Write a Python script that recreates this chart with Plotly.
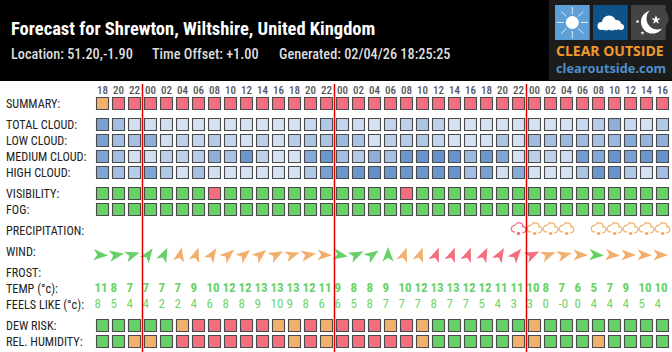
import numpy as np
import plotly.graph_objects as go

TITLE = "Forecast for Shrewton, Wiltshire, United Kingdom"
SUB1 = "Location: 51.20,-1.90"
SUB2 = "Time Offset: +1.00"
SUB3 = "Generated: 02/04/26 18:25:25"

hours = ["18","20","22"] + ["00","02","04","06","08","10","12","14","16","18","20","22"]*2 + ["00","02","04","06","08","10","12","14","16"]

total_cloud = [75,45,12,12,12,10,10,10,10,10,10,10,10,20,35,22,15,10,22,25,38,25,10,10,10,10,10,10,10,10,20,30,60,20,10,35]
low_cloud = [75,45,42,60,12,25,22,33,22,10,28,12,30,38,38,50,40,10,28,32,35,22,10,10,10,38,10,48,42,50,48,42,52,65,55,60]
medium_cloud = [72,45,12,12,28,25,30,60,40,85,25,10,10,65,85,45,33,60,42,85,88,90,88,50,85,70,10,28,25,15,80,68,88,75,85,90]
high_cloud = [70,45,30,70,35,10,42,12,10,10,10,10,10,35,75,85,85,92,85,85,85,85,88,45,75,12,65,10,10,10,38,85,88,35,10,45]

# 0 good, 1 marginal, 2 poor
summary = [1]+[2]*35
visibility = [0]*7+[2]+[0]*11+[2]+[0]*16
fog = [0]*36
dew_risk = [0,0,0,0,0,1,2,2,2,2,2,1,1,2,1,2,2,2,1,2,1,0,0,0,0,0,0,1,0,0,0,0,0,0,0,0]
rel_humidity = [0,0,1,1,0,2,2,2,2,2,2,2,1,2,1,2,2,2,2,2,1,0,0,0,0,0,1,1,0,0,0,1,0,0,0,0]
precipitation = [0]*26+[2,1,1,1,0,1,1,1,1,1]

wind_bearing = [93,80,72,35,25,12,18,32,50,52,52,62,72,80,92,100,65,55,0,20,20,20,20,20,25,30,40,65,70,75,90,93,95,90,92,90]
wind_level = [0,0,0,0,0]+[1]*10+[0,0,0,0]+[1,1]+[2]*7+[1,1,1]+[0]+[1]*4

temp = [11,8,7,7,7,7,9,10,12,12,13,13,13,12,11,9,8,8,9,10,12,13,13,12,12,11,11,10,8,7,6,5,7,9,10,10]
feels = ["8","5","4","4","2","2","4","6","8","8","9","10","9","8","6","6","5","8","7","7","7","8","7","7","5","4","3","3","0","-0","0","4","4","4","5","4"]

row_labels = ["SUMMARY:","TOTAL CLOUD:","LOW CLOUD:","MEDIUM CLOUD:","HIGH CLOUD:","VISIBILITY:","FOG:",
              "PRECIPITATION:","WIND:","FROST:","TEMP (°c):","FEELS LIKE (°c):","DEW RISK:","REL. HUMIDITY:"]
row_label_y = [103.5,125,141,157,173,193.5,209.5,230.5,252,273,289,305,325.5,341.5]

LEVEL = ["#66d166","#f2b06e","#f36f80"]
NARROW = "Roboto Condensed, Liberation Sans Narrow, Arial Narrow, Roboto"
GRID = "#4a4a4a"
COL_W = 16.0
X0 = 102.5
cols = np.arange(len(hours))

fig = go.Figure()

def cell_row(values, y, cloud=False):
    m = dict(symbol="square", size=12, line=dict(color=GRID, width=1.1))
    if cloud:
        m.update(color=values, cmin=0, cmax=100, colorscale=[[0,"#e2ebf7"],[1,"#5688c8"]])
    else:
        m.update(color=[LEVEL[v] for v in values])
    fig.add_trace(go.Scatter(x=cols, y=[y]*len(cols), mode="markers", marker=m, hoverinfo="skip"))

cell_row(summary, 103.5)
cell_row(total_cloud, 124.5, True)
cell_row(low_cloud, 140.5, True)
cell_row(medium_cloud, 156.5, True)
cell_row(high_cloud, 172.5, True)
cell_row(visibility, 193.5)
cell_row(fog, 209.5)
cell_row(dew_risk, 325.5)
cell_row(rel_humidity, 341.5)

# hour labels
fig.add_trace(go.Scatter(x=cols, y=[91]*len(cols), mode="text", text=hours, textposition="middle center",
                         textfont=dict(family=NARROW, size=11, color="#555555", weight=500), hoverinfo="skip"))
# temperature rows
fig.add_trace(go.Scatter(x=cols-8/COL_W, y=[289]*len(cols), mode="text", text=[str(t) for t in temp],
                         textposition="middle right",
                         textfont=dict(family=NARROW, size=13, color=LEVEL[0], weight=700), hoverinfo="skip"))
fig.add_trace(go.Scatter(x=cols-8/COL_W, y=[305]*len(cols), mode="text", text=feels,
                         textposition="middle right",
                         textfont=dict(family=NARROW, size=13, color="#70d470"), hoverinfo="skip"))

# wind arrowheads, one filled trace per level
ARROW = np.array([[0,-8.0],[5.6,6.5],[0,2.8],[-5.6,6.5]])
for lvl in range(3):
    xs, ys = [], []
    for c, b, l in zip(cols, wind_bearing, wind_level):
        if l != lvl:
            continue
        a = np.radians(b)
        rx = ARROW[:,0]*np.cos(a) - ARROW[:,1]*np.sin(a)
        ry = ARROW[:,0]*np.sin(a) + ARROW[:,1]*np.cos(a)
        xs += list(c - 2.5/COL_W + rx/COL_W) + [c - 2.5/COL_W + rx[0]/COL_W, None]
        ys += list(255 + ry) + [255 + ry[0], None]
    fig.add_trace(go.Scatter(x=xs, y=ys, mode="lines", fill="toself", fillcolor=LEVEL[lvl],
                             line=dict(width=0, color=LEVEL[lvl]), hoverinfo="skip"))

# precipitation icons: open cloud outline with a drop
def arc(cx, cy, r, a0, a1, n=10):
    t = np.radians(np.linspace(a0, a1, n))
    return cx + r*np.sin(t), cy - r*np.cos(t)
parts = [arc(-3.9,228.8,3.4,170,360), arc(0.6,226.8,4.2,-50,75), arc(4.4,229.6,3.1,-10,190)]
ox = np.concatenate([p[0] for p in parts]); oy = np.concatenate([p[1] for p in parts])
for lvl in (1,2):
    xs, ys, dx = [], [], []
    for c, p in zip(cols, precipitation):
        if p == lvl:
            xs += list(c + ox/COL_W) + [None]
            ys += list(oy) + [None]
            dx.append(c)
    fig.add_trace(go.Scatter(x=xs, y=ys, mode="lines", line=dict(color=LEVEL[lvl], width=1.2), hoverinfo="skip"))
    fig.add_trace(go.Scatter(x=dx, y=[233.4]*len(dx), mode="markers",
                             marker=dict(color=LEVEL[lvl], size=3.5), hoverinfo="skip"))

# logo glyphs on the pixel overlay
def logo(x, y, size, color, symbol="circle", line=None):
    m = dict(size=size, color=color, symbol=symbol)
    if line:
        m["line"] = line
    fig.add_trace(go.Scatter(x=[x], y=[y], xaxis="x2", yaxis="y", mode="markers", marker=m, hoverinfo="skip"))

logo(572.3,22.5,26,"#ffffff","asterisk-open",dict(color="#e8f1fa",width=0.8))
logo(572.3,22.5,17,"#5e9fd8")
logo(572.3,22.5,13,"#ffffff")
for cx,cy,s in [(601.5,26,8),(609,22.5,14),(616.5,25,10),(621,27,6),(606,27,7),(612,27,7)]:
    logo(cx,cy,s,"#ffffff")
logo(652.5,22,23,"#ffffff")
logo(657.5,18.5,22,"#444444")
logo(656,20,7,"#ffffff","star")
logo(637.5,21.5,2.5,"#ffffff")
logo(642.5,33,3,"#ffffff","star")

ann = []
def text(x, y, s, size, color, weight=400, family=NARROW):
    ann.append(dict(x=x, y=y, xref="x2", yref="y", text=s, showarrow=False, xanchor="left", yanchor="middle",
                    borderpad=0, font=dict(family=family, size=size, color=color, weight=weight)))

text(9.5, 28.5, TITLE, 18.5, "#ffffff", 700)
text(9.5, 54, SUB1, 14.3, "#dddddd", 500)
text(150.5, 54, SUB2, 14.3, "#dddddd", 500)
text(277.5, 54, SUB3, 14.3, "#dddddd", 500)
text(555, 50.4, "CLEAR OUTSIDE", 14, "#f2992e", 700, "Open Sans")
text(555, 68.4, "clearoutside.com", 12.8, "#4f8fc9", 700, "Open Sans")
for s, y in zip(row_labels, row_label_y):
    text(5, y, s, 12.2, "#222222")

shapes = [
    dict(type="rect", xref="x2", yref="y", x0=0, x1=672, y0=0, y1=81, fillcolor="#000000", line_width=0, layer="below"),
    dict(type="rect", xref="x2", yref="y", x0=549, x1=672, y0=0, y1=80, fillcolor="#1c1c1c", line_width=0, layer="below"),
    dict(type="rect", xref="x2", yref="y", x0=555, x1=589.7, y0=5, y1=40, fillcolor="#5e9fd8", line_width=0, layer="below"),
    dict(type="rect", xref="x2", yref="y", x0=593, x1=627.7, y0=5, y1=40, fillcolor="#0e5288", line_width=0, layer="below"),
    dict(type="rect", xref="x2", yref="y", x0=631, x1=665.7, y0=5, y1=40, fillcolor="#444444", line_width=0, layer="below"),
]
for i in range(1, len(hours)):
    if hours[i] == "00":
        shapes.append(dict(type="line", xref="x", yref="y", x0=i-0.5, x1=i-0.5, y0=84, y1=352,
                           line=dict(color="#e00000", width=1.5), layer="above"))

fig.update_layout(
    width=672, height=352, margin=dict(l=0, r=0, t=0, b=0), showlegend=False,
    paper_bgcolor="#ffffff", plot_bgcolor="#ffffff",
    xaxis=dict(range=[-X0/COL_W, (672-X0)/COL_W], visible=False, fixedrange=True),
    xaxis2=dict(range=[0,672], visible=False, overlaying="x", fixedrange=True),
    yaxis=dict(range=[352,0], visible=False, fixedrange=True),
    shapes=shapes, annotations=ann,
)
fig.write_html("out.html", config=dict(displayModeBar=False),
               post_script="document.body.style.margin='0';document.body.style.overflow='hidden';")
